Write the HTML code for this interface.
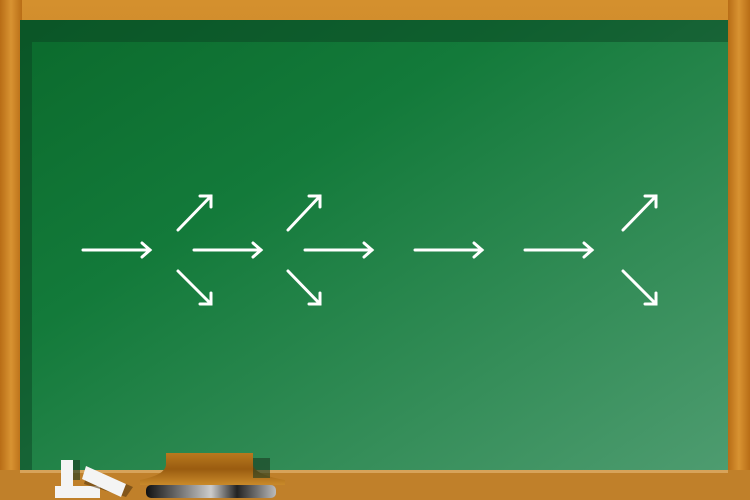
<!DOCTYPE html>
<html><head><meta charset="utf-8"><style>html,body{margin:0;padding:0;background:#fff}svg{display:block}</style></head>
<body>
<svg width="750" height="500" viewBox="0 0 750 500">
<defs>
<linearGradient id="board" x1="0" y1="0" x2="1" y2="1">
<stop offset="0" stop-color="#0b6a2c"/><stop offset="0.35" stop-color="#137a3a"/><stop offset="1" stop-color="#4e9c70"/>
</linearGradient>
<linearGradient id="wood" x1="0" y1="0" x2="1" y2="0">
<stop offset="0" stop-color="#b86d16"/><stop offset="0.5" stop-color="#d89332"/><stop offset="1" stop-color="#b86d16"/>
</linearGradient>
<linearGradient id="woodv" x1="0" y1="0" x2="0" y2="1">
<stop offset="0" stop-color="#d4902e"/><stop offset="1" stop-color="#a8640f"/>
</linearGradient>
<linearGradient id="eraser" x1="0" y1="0" x2="0" y2="1">
<stop offset="0" stop-color="#b8791e"/><stop offset="0.5" stop-color="#9a5c10"/><stop offset="1" stop-color="#c98a2a"/>
</linearGradient>
<linearGradient id="felt" x1="0" y1="0" x2="1" y2="0">
<stop offset="0" stop-color="#111"/><stop offset="0.5" stop-color="#ccc"/><stop offset="0.7" stop-color="#222"/><stop offset="1" stop-color="#bbb"/>
</linearGradient>
</defs>
<rect x="0" y="0" width="750" height="500" fill="url(#woodv)"/>
<rect x="0" y="0" width="22" height="500" fill="url(#wood)"/>
<rect x="728" y="0" width="22" height="500" fill="url(#wood)"/>
<rect x="20" y="20" width="708" height="452" fill="url(#board)"/>
<rect x="20" y="20" width="708" height="22" fill="#0a3f22" opacity="0.45"/>
<rect x="20" y="42" width="12" height="430" fill="#0a3f22" opacity="0.45"/>
<rect x="0" y="470" width="750" height="30" fill="#c0802a"/>
<rect x="20" y="470" width="708" height="3" fill="#d7a35a"/>
<g stroke="#fff" stroke-width="3" fill="none" stroke-linecap="round">
<g><line x1="83" y1="250" x2="150" y2="250"/><polyline points="142,243 150,250 142,257"/></g>
<g><line x1="194" y1="250" x2="261" y2="250"/><polyline points="253,243 261,250 253,257"/></g>
<g><line x1="305" y1="250" x2="372" y2="250"/><polyline points="364,243 372,250 364,257"/></g>
<g><line x1="415" y1="250" x2="482" y2="250"/><polyline points="474,243 482,250 474,257"/></g>
<g><line x1="525" y1="250" x2="592" y2="250"/><polyline points="584,243 592,250 584,257"/></g>
<g><line x1="178" y1="230" x2="211" y2="196"/><polyline points="200,196 211,196 211,207"/><line x1="178" y1="271" x2="211" y2="304"/><polyline points="200,304 211,304 211,293"/></g>
<g><line x1="288" y1="230" x2="320" y2="196"/><polyline points="309,196 320,196 320,207"/><line x1="288" y1="271" x2="320" y2="304"/><polyline points="309,304 320,304 320,293"/></g>
<g><line x1="623" y1="230" x2="656" y2="196"/><polyline points="645,196 656,196 656,207"/><line x1="623" y1="271" x2="656" y2="304"/><polyline points="645,304 656,304 656,293"/></g>
</g>
<g>
<rect x="72" y="460" width="8" height="20" fill="#1b3a22" opacity="0.6"/>
<rect x="61" y="460" width="12" height="38" fill="#f4f4f4"/>
<rect x="55" y="486" width="45" height="12" fill="#f4f4f4"/>
<polygon points="88,470 96,471 133,487 126,497 84,484" fill="#5a3a10" opacity="0.6"/>
<polygon points="86,466 126,484 121,497 82,479" fill="#f4f4f4"/>
</g>
<g>
<path d="M166,453 L253,453 L253,465 Q255,475 285,480 L285,485 L140,485 L140,480 Q165,475 166,465 Z" fill="url(#eraser)"/>
<rect x="253" y="458" width="17" height="20" fill="#1b3a22" opacity="0.6"/>
<rect x="146" y="485" width="130" height="13" rx="5" fill="url(#felt)"/>
</g>
</svg>
</body></html>
